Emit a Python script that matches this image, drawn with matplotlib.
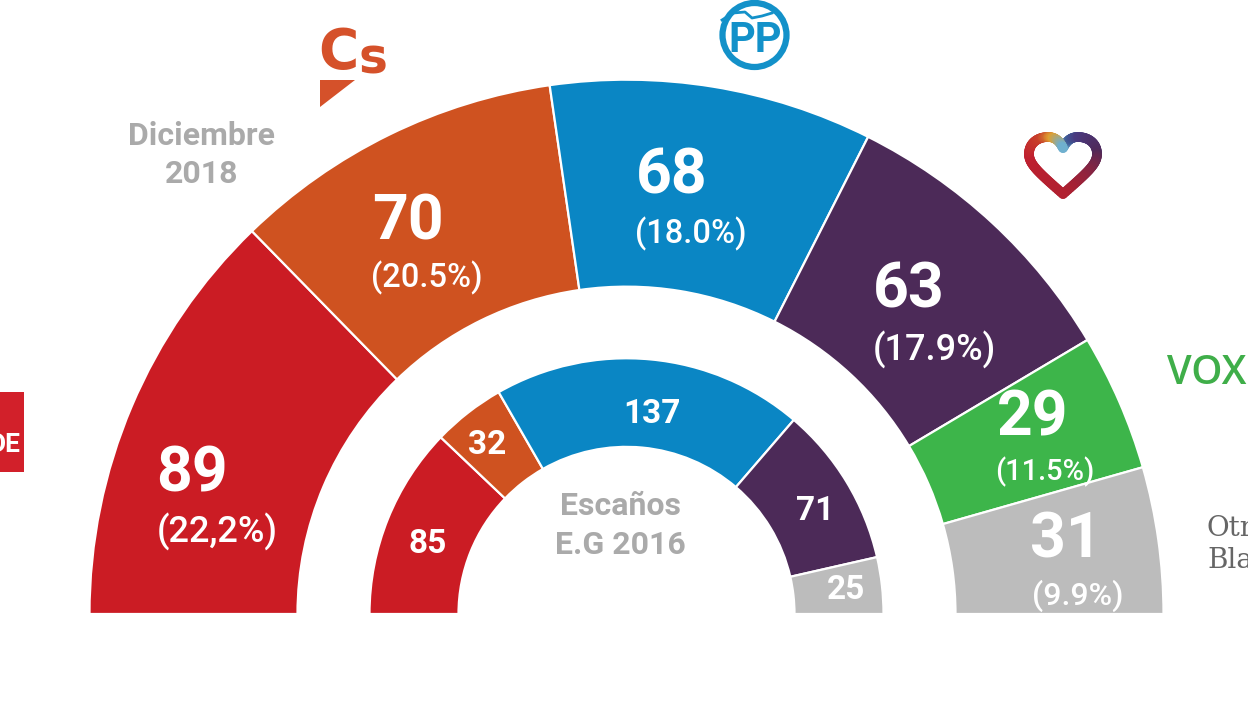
import numpy as np
import matplotlib
matplotlib.use("Agg")
import matplotlib.pyplot as plt
from matplotlib.patches import Wedge, Rectangle, Polygon, Circle
from matplotlib.collections import LineCollection
from matplotlib.colors import LinearSegmentedColormap
from matplotlib.transforms import Affine2D

plt.rcParams["font.family"] = ["Roboto", "DejaVu Sans"]

# Seats, December 2018 poll
outer_seats = [89, 70, 68, 63, 29, 31]
outer_votes = ["(22,2%)", "(20.5%)", "(18.0%)", "(17.9%)", "(11.5%)", "(9.9%)"]
outer_colors = ["#cb1c24", "#cf5220", "#0a86c4", "#4c2a58", "#3db54a", "#bcbcbc"]

# Seats, 2016 general election
inner_seats = [85, 32, 137, 71, 25]
inner_colors = ["#cb1c24", "#cf5220", "#0a86c4", "#4c2a58", "#bcbcbc"]

H = 702
CX, CY = 626.5, H - 614


def ring(values, colors, r_out, r_in):
    # Half doughnut running clockwise from the left, very slightly flattened like the source
    squash = Affine2D().translate(0, -CY).scale(1, 0.995).translate(0, CY) + ax.transData
    edges = 180 - np.cumsum([0] + list(values)) / sum(values) * 180
    for i, c in enumerate(colors):
        ax.add_patch(Wedge((CX, CY), r_out, edges[i + 1], edges[i], width=r_out - r_in,
                           facecolor=c, edgecolor="white", linewidth=1.6, transform=squash))


def label(x, y, s, size, color="white", **kw):
    ax.text(x, H - y, s, fontsize=size, color=color, ha=kw.pop("ha", "center"), va="center",
            fontweight=kw.pop("fontweight", "bold"), **kw)


def bezier(p0, p1, p2, p3, n=30):
    u = np.linspace(0, 1, n)[:, None]
    p0, p1, p2, p3 = [np.array(p, dtype=float) for p in (p0, p1, p2, p3)]
    return (1 - u) ** 3 * p0 + 3 * (1 - u) ** 2 * u * p1 + 3 * (1 - u) * u ** 2 * p2 + u ** 3 * p3


fig = plt.figure(figsize=(12.48, 7.02), dpi=100)
ax = fig.add_axes([0, 0, 1, 1])
ax.set_xlim(0, 1248)
ax.set_ylim(0, H)
ax.axis("off")

ring(outer_seats, outer_colors, 537, 329)
ring(inner_seats, inner_colors, 257, 168)

# Outer labels
seat_xy = [(192, 474), (408, 222), (672, 177), (909, 291), (1033, 419), (1066, 541)]
vote_xy = [(217, 532), (427, 278), (691, 234), (934, 350), (1045, 472), (1078, 596)]
vote_sizes = [26, 23.5, 23.5, 26, 21, 23]
for i in range(len(outer_seats)):
    label(*seat_xy[i], str(outer_seats[i]), 45)
    label(*vote_xy[i], outer_votes[i], vote_sizes[i], fontweight="medium")

# Inner labels
inner_xy = [(428, 544), (487, 445), (652, 414), (815, 511), (846, 590)]
for (x, y), v in zip(inner_xy, inner_seats):
    label(x, y, str(v), 24)

# Captions
label(202, 136, "Diciembre", 23, color="#aaaaaa")
label(202, 174, "2018", 23, color="#aaaaaa")
label(620, 506, "Escaños", 23, color="#aaaaaa")
label(620, 545, "E.G 2016", 23, color="#aaaaaa")

# PSOE logo, cut by the left edge
ax.add_patch(Rectangle((-20, H - 472), 44, 80, facecolor="#d2202a", edgecolor="none"))
label(20, 445, "DE", 19, ha="right")

# Cs logo
cs = "#d5512a"
label(338, 53, "C", 39.5, color=cs, family="DejaVu Sans")
label(373, 59, "s", 35, color=cs, family="DejaVu Sans")
ax.add_patch(Polygon([(320, H - 80), (355, H - 80), (320, H - 107)], facecolor=cs, edgecolor="none"))

# PP logo
pp = "#1391c9"
ax.add_patch(Circle((754.5, H - 35), 32, facecolor="none", edgecolor=pp, linewidth=4.5))
label(755, 40, "PP", 30, color=pp)
ax.plot([722, 733, 745, 752, 762, 772], [H - 20, H - 13, H - 12, H - 18, H - 16, H - 13], color=pp, lw=2)

# Podemos heart, stroke colour changes along the outline
right_side = [
    ((1063, 148), (1066, 142), (1070, 137), (1078, 137)),
    ((1078, 137), (1088, 137), (1097, 143), (1097, 154)),
    ((1097, 154), (1097, 164), (1088, 172), (1063, 194)),
]
left_side = [[(2 * 1063 - x, y) for x, y in seg[::-1]] for seg in right_side[::-1]]
pts = np.vstack([bezier(*seg) for seg in right_side + left_side])
pts[:, 1] = H - pts[:, 1]
segs = np.stack([pts[:-1], pts[1:]], axis=1)
cmap = LinearSegmentedColormap.from_list("heart", [
    (0.0, "#6fb0cf"), (0.1, "#3f5a96"), (0.17, "#4a3a80"), (0.33, "#4f2a5a"),
    (0.5, "#b02030"), (0.67, "#c02030"), (0.8, "#c8402a"), (0.88, "#e0a030"), (1.0, "#6fb0cf")])
ax.add_collection(LineCollection(segs, colors=cmap(np.linspace(0, 1, len(segs))),
                                 linewidths=7, capstyle="round"))

# Vox logo
ax.text(1167, H - 374, "VOX", fontsize=28.5, color="#3fae49", ha="left", va="center",
        family="Open Sans", fontweight="semibold")

# Right side caption, runs off the figure
ax.text(1207, H - 528, "Otros", fontsize=20, color="#666666", ha="left", va="center", family="DejaVu Serif")
ax.text(1207, H - 560, "Blancos", fontsize=20, color="#666666", ha="left", va="center", family="DejaVu Serif")

fig.savefig("out.png", dpi=100)
